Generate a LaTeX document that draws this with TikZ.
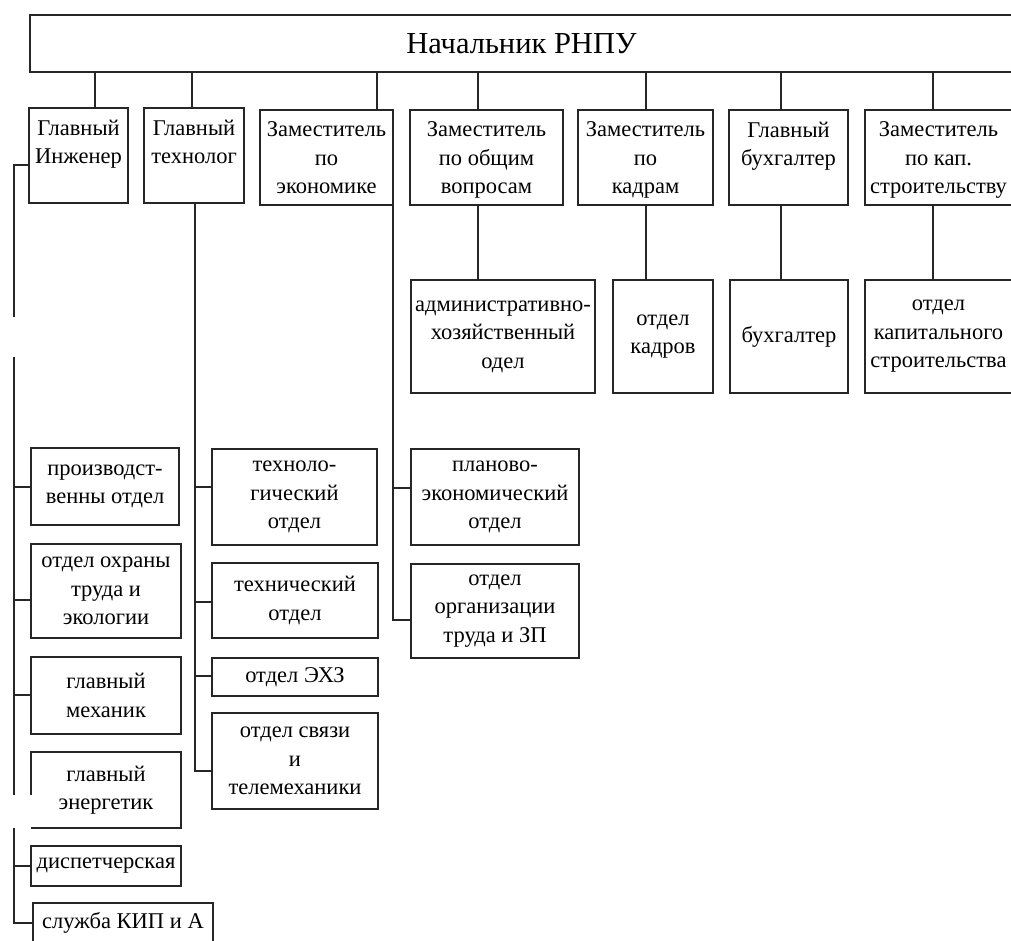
\documentclass[tikz,border=0pt]{standalone}
\usepackage{fontspec}
\setmainfont{Liberation Serif}
\newcommand\rowfont{\fontsize{22.5}{28.5}\selectfont}
\newcommand\titlefont{\fontsize{30.5}{36}\selectfont}
\tikzset{
  ln/.style={line width=1.8pt, draw=black!85},
  box/.style={ln, rectangle, inner sep=0pt, outer sep=0pt, align=center, font=\rowfont, text=black},
}
\newcommand\mybox[6]{\node[box, minimum width={(#4-#2)*1pt}, minimum height={(#5-#3)*1pt}] (#1) at ({(#2+#4)/2},{(#3+#5)/2}) {#6};}
\newcommand\mytopbox[6]{\node[box] (#1) at ({(#2+#4)/2},{(#3+#5)/2}) {\parbox[c][\dimexpr#5pt-#3pt\relax][t]{\dimexpr#4pt-#2pt\relax}{\centering\vspace*{12pt}#6}};}
\begin{document}
\begin{tikzpicture}[x=1pt,y=-1pt]
\useasboundingbox (0,0) rectangle (1011,940);
\fill[white] (0,0) rectangle (1011,940);
% top
\node[box, minimum width=983pt, minimum height=57pt, font=\titlefont] (top) at (521.5,43.5) {Начальник РНПУ};
% row 2
\mytopbox{eng}{29}{108}{128}{203}{Главный\\Инженер}
\mytopbox{tech}{144}{108}{244}{203}{Главный\\технолог}
\mytopbox{econ}{260}{110}{393}{205}{Заместитель\\по\\экономике}
\mytopbox{gen}{410}{110}{563}{205}{Заместитель\\по общим\\вопросам}
\mytopbox{hr}{578}{110}{713}{205}{Заместитель\\по\\кадрам}
\mytopbox{acc}{729}{110}{848}{205}{Главный\\бухгалтер}
\mytopbox{cap}{865}{110}{1012}{205}{Заместитель\\по кап.\\строительству}
% row 3
\mybox{adm}{411}{280}{595}{393}{административно-\\хозяйственный\\одел}
\mybox{hrd}{613}{280}{713}{393}{отдел\\кадров}
\mybox{accd}{730}{280}{848}{393}{бухгалтер}
\mybox{capd}{865}{280}{1012}{393}{отдел\\капитального\\строительства}
% left column
\mybox{prod}{31}{448}{179}{525}{производст-\\венны отдел}
\mybox{ohr}{31}{544}{181}{638}{отдел охраны\\труда и\\экологии}
\mybox{mech}{31}{657}{181}{734}{главный\\механик}
\node[box, draw=none, minimum width=150pt, minimum height=76pt] (energ) at (106,790) {главный\\энергетик};
\mybox{disp}{31}{846}{181}{886}{диспетчерская}
\mybox{kip}{33}{903}{213}{943}{служба КИП и А}
% middle column
\mybox{tdep}{212}{449}{377}{545}{техноло-\\гический\\отдел}
\mybox{techn}{212}{563}{378}{638}{технический\\отдел}
\mybox{ehz}{212}{658}{378}{696}{отдел ЭХЗ}
\mybox{svyaz}{212}{713}{378}{809}{отдел связи\\и\\телемеханики}
% economics column
\mybox{plan}{411}{449}{579}{545}{планово-\\экономический\\отдел}
\mybox{org}{411}{564}{579}{658}{отдел\\организации\\труда и ЗП}
% energetik border (left edge partly missing)
\draw[ln] (energ.west |- 0,795) -- (energ.north west) -- (energ.north east) -- (energ.south east) -- (energ.south west);
% top connectors
\foreach \n/\x in {eng/95, tech/192, econ/377, gen/478, hr/646, acc/781, cap/933}
  \draw[ln] (top.south -| \x,0) -- (\n.north -| \x,0);
% row 2 to row 3
\foreach \a/\b/\x in {gen/adm/478, hr/hrd/646, acc/accd/781, cap/capd/933}
  \draw[ln] (\a.south -| \x,0) -- (\b.north -| \x,0);
% left trunk
\draw[ln] (eng.west |- 0,165) -- (14,165) -- (14,317);
\draw[ln] (14,357) -- (14,795);
\draw[ln] (14,828) |- (kip.west |- 0,923);
\foreach \n/\y in {prod/487, ohr/600, mech/695, disp/866}
  \draw[ln] (14,\y) -- (\n.west |- 0,\y);
% technolog trunk
\draw[ln] (tech.south -| 195,0) -- (195,771) -- (svyaz.west |- 0,771);
\foreach \n/\y in {tdep/487, techn/602, ehz/676}
  \draw[ln] (195,\y) -- (\n.west |- 0,\y);
% economics trunk
\draw[ln] (econ.south east) -- (393,620) -- (org.west |- 0,620);
\draw[ln] (393,488) -- (plan.west |- 0,488);
\end{tikzpicture}
\end{document}
